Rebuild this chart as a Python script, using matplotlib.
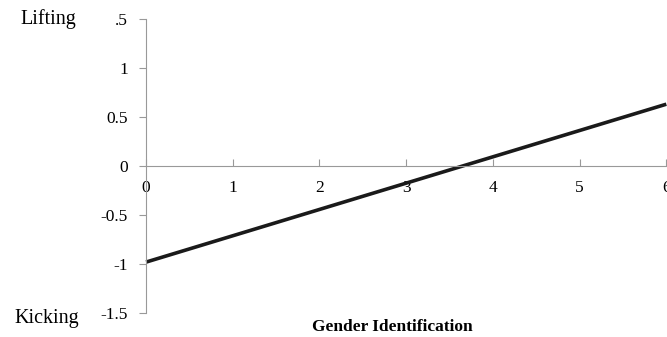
import matplotlib
matplotlib.use("Agg")
import matplotlib.pyplot as plt

x_vals = [0, 6]
y_vals = [-0.98, 0.63]
x_ticks = [0, 1, 2, 3, 4, 5, 6]
x_tick_labels = ["0", "1", "2", "3", "4", "5", "6"]
y_ticks = [-1.5, -1, -0.5, 0, 0.5, 1, 1.5]
y_tick_labels = ["-1.5", "-1", "-0.5", "0", "0.5", "1", ".5"]
top_label = "Lifting"
bottom_label = "Kicking"
x_title = "Gender Identification"

plt.rcParams['font.family'] = ['Liberation Serif', 'DejaVu Serif']
fig = plt.figure(figsize=(6.67, 3.37), dpi=100)
ax = fig.add_axes([0.219, 0.071, 0.780, 0.873])
ax.plot(x_vals, y_vals, color='#1a1a1a', lw=2.6, solid_capstyle='butt', clip_on=False)
ax.set_xlim(0, 6)
ax.set_ylim(-1.5, 1.5)
gray = '#999999'
for s in ['top', 'right']:
    ax.spines[s].set_visible(False)
ax.spines['bottom'].set_position(('data', 0))
ax.spines['bottom'].set_color(gray)
ax.spines['left'].set_color(gray)
ax.set_yticks(y_ticks)
ax.set_yticklabels(y_tick_labels, fontsize=12.5)
ax.set_xticks(x_ticks)
ax.set_xticklabels(x_tick_labels, fontsize=12.5)
ax.tick_params(axis='y', direction='out', length=5, color=gray, pad=8)
ax.tick_params(axis='x', direction='in', length=5, color=gray, pad=10)
fig.text(0.072, 0.944, top_label, fontsize=14.5, ha='center', va='center')
fig.text(0.070, 0.056, bottom_label, fontsize=14.5, ha='center', va='center')
fig.text(0.588, 0.030, x_title, fontsize=12.5, fontweight='bold', ha='center', va='center')
fig.savefig("out.png", dpi=100)
